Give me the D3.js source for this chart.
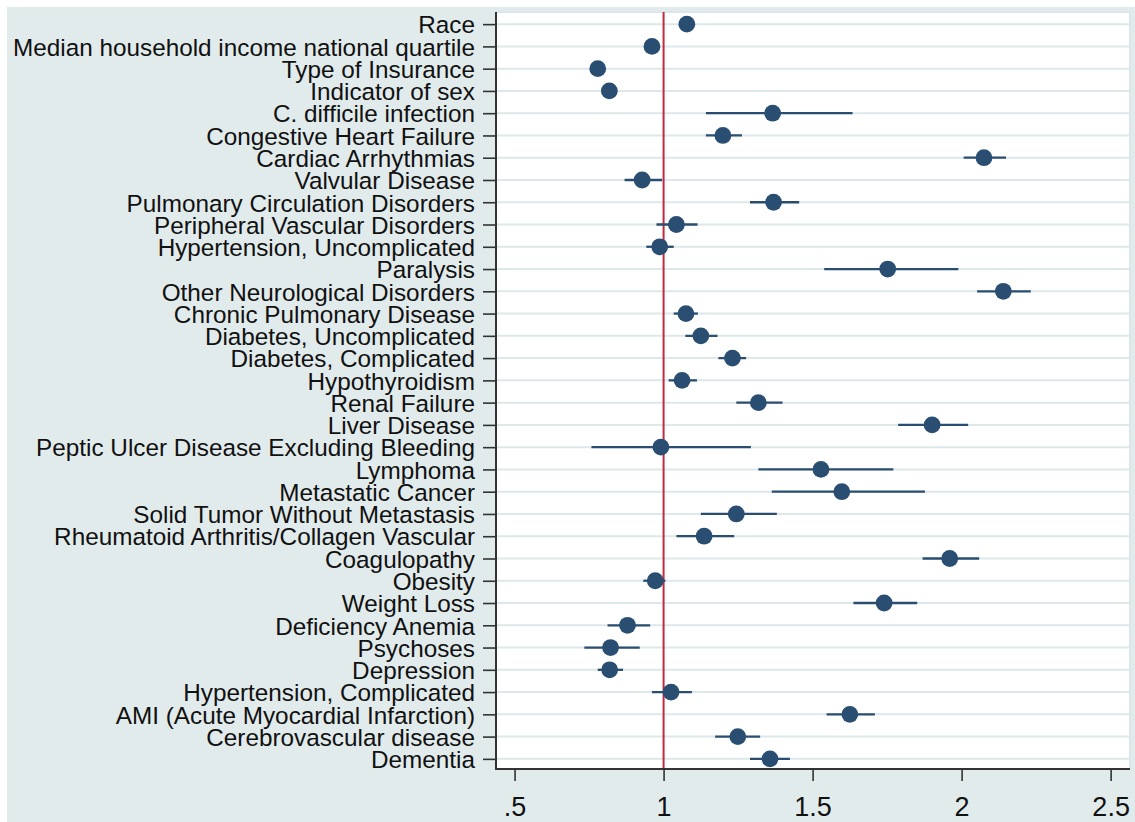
<!DOCTYPE html>
<html>
<head>
<meta charset="utf-8">
<title>Forest plot</title>
<script src="https://d3js.org/d3.v7.min.js"></script>
<style>
  body { margin: 0; background: #fff; }
  svg text { font-family: "Liberation Sans", Arial, sans-serif; fill: #111; }
</style>
</head>
<body>
<svg id="chart" width="1135" height="822"></svg>
<script>
// data
const labels = [
  "Race", "Median household income national quartile", "Type of Insurance", "Indicator of sex",
  "C. difficile infection", "Congestive Heart Failure", "Cardiac Arrhythmias", "Valvular Disease",
  "Pulmonary Circulation Disorders", "Peripheral Vascular Disorders", "Hypertension, Uncomplicated",
  "Paralysis", "Other Neurological Disorders", "Chronic Pulmonary Disease", "Diabetes, Uncomplicated",
  "Diabetes, Complicated", "Hypothyroidism", "Renal Failure", "Liver Disease",
  "Peptic Ulcer Disease Excluding Bleeding", "Lymphoma", "Metastatic Cancer",
  "Solid Tumor Without Metastasis", "Rheumatoid Arthritis/Collagen Vascular", "Coagulopathy",
  "Obesity", "Weight Loss", "Deficiency Anemia", "Psychoses", "Depression",
  "Hypertension, Complicated", "AMI (Acute Myocardial Infarction)", "Cerebrovascular disease", "Dementia"
];
const estimate = [1.078, 0.961, 0.779, 0.818, 1.366, 1.199, 2.075, 0.928, 1.369, 1.043, 0.987,
  1.752, 2.140, 1.075, 1.125, 1.231, 1.062, 1.318, 1.901, 0.991, 1.528, 1.598, 1.244, 1.136,
  1.960, 0.972, 1.740, 0.879, 0.822, 0.819, 1.025, 1.625, 1.249, 1.357];
const lower = [1.065, 0.952, 0.770, 0.810, 1.142, 1.142, 2.007, 0.869, 1.290, 0.976, 0.942,
  1.539, 2.052, 1.034, 1.073, 1.184, 1.017, 1.244, 1.787, 0.758, 1.318, 1.363, 1.125, 1.043,
  1.869, 0.932, 1.637, 0.812, 0.734, 0.779, 0.961, 1.547, 1.173, 1.290];
const upper = [1.092, 0.970, 0.788, 0.826, 1.634, 1.263, 2.149, 0.995, 1.455, 1.114, 1.034,
  1.989, 2.232, 1.115, 1.181, 1.277, 1.112, 1.399, 2.022, 1.293, 1.771, 1.877, 1.380, 1.237,
  2.059, 1.006, 1.851, 0.955, 0.920, 0.864, 1.095, 1.709, 1.324, 1.424];
const xTicks = [0.5, 1, 1.5, 2, 2.5];
const xTickLabels = [".5", "1", "1.5", "2", "2.5"];
const refValue = 1;

const rows = labels.map((l, i) => ({label: l, est: estimate[i], lo: lower[i], hi: upper[i]}));

const svg = d3.select("#chart");
const W = 1135, H = 822;
const plot = {left: 496, top: 12, right: 1130, bottom: 769};

svg.append("rect").attr("x", 7).attr("y", 7).attr("width", W - 7).attr("height", H - 7)
  .attr("fill", "#e1ebec");

svg.append("rect").attr("x", plot.left).attr("y", plot.top)
  .attr("width", plot.right - plot.left).attr("height", plot.bottom - plot.top)
  .attr("fill", "#fff").attr("stroke", "#dbe6e8").attr("stroke-width", 2);

const x = d3.scaleLinear().domain([0.4377, 2.565]).range([plot.left, plot.right]);
const y = d3.scalePoint().domain(labels).range([plot.top + 1, plot.bottom + 1]).padding(0.5);

// grid lines
svg.append("g").selectAll("line").data(labels).join("line")
  .attr("x1", plot.left).attr("x2", plot.right)
  .attr("y1", d => y(d)).attr("y2", d => y(d))
  .attr("stroke", "#dde8ea").attr("stroke-width", 2);

// reference line
svg.append("line")
  .attr("x1", x(refValue)).attr("x2", x(refValue))
  .attr("y1", plot.top).attr("y2", plot.bottom)
  .attr("stroke", "#c3283f").attr("stroke-width", 2);

// confidence intervals
svg.append("g").selectAll("line").data(rows).join("line")
  .attr("x1", d => x(d.lo)).attr("x2", d => x(d.hi))
  .attr("y1", d => y(d.label)).attr("y2", d => y(d.label))
  .attr("stroke", "#2a4e72").attr("stroke-width", 2.3);

// point estimates
svg.append("g").selectAll("circle").data(rows).join("circle")
  .attr("cx", d => x(d.est)).attr("cy", d => y(d.label)).attr("r", 8.4)
  .attr("fill", "#2a4e72");

// y axis
const yAxis = svg.append("g").attr("transform", `translate(${plot.left},0)`)
  .call(d3.axisLeft(y).tickSize(13).tickPadding(8));
yAxis.selectAll("text").style("font-size", "24.3px").attr("dy", "0.36em");
yAxis.selectAll("line").attr("stroke", "#333").attr("stroke-width", 1.6);
yAxis.select(".domain").remove();
svg.append("line").attr("x1", plot.left).attr("x2", plot.left)
  .attr("y1", plot.top).attr("y2", plot.bottom + 1)
  .attr("stroke", "#333").attr("stroke-width", 2);

// x axis
const xAxis = svg.append("g").attr("transform", `translate(0,${plot.bottom})`)
  .call(d3.axisBottom(x).tickValues(xTicks).tickSize(12).tickPadding(16)
    .tickFormat((d, i) => xTickLabels[i]));
xAxis.selectAll("text").style("font-size", "27px");
xAxis.selectAll("line").attr("stroke", "#333").attr("stroke-width", 1.6);
xAxis.select(".domain").remove();
svg.append("line").attr("x1", plot.left - 1).attr("x2", plot.right)
  .attr("y1", plot.bottom).attr("y2", plot.bottom)
  .attr("stroke", "#333").attr("stroke-width", 2);
</script>
</body>
</html>
